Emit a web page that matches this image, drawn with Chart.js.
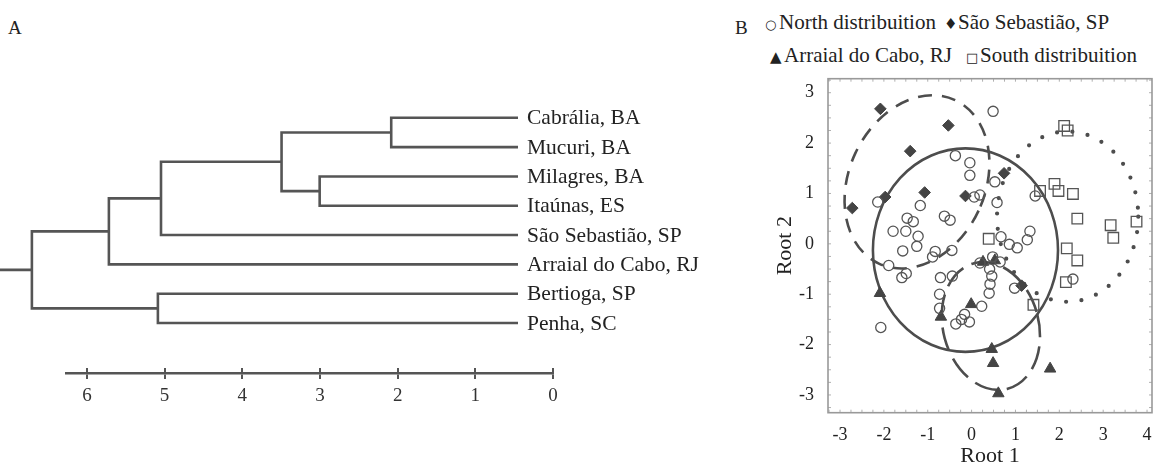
<!DOCTYPE html>
<html>
<head>
<meta charset="utf-8">
<script src="https://cdn.jsdelivr.net/npm/chart.js@4.4.0/dist/chart.umd.min.js"></script>
<style>
  body { margin: 0; background: #fff; width: 1153px; height: 468px; position: relative; overflow: hidden;
         font-family: "Liberation Serif", "Times New Roman", serif; color: #222; }
  canvas { position: absolute; }
  .lbl { position: absolute; font-size: 19px; line-height: 19px; }
  .leg { position: absolute; font-size: 21px; line-height: 20px; white-space: nowrap; }
  .sym { font-family: "DejaVu Sans", sans-serif; font-size: 13px; display: inline-block; width: 14px; }
  .big { font-size: 15px; }
</style>
</head>
<body>
<div class="lbl" style="left:8px; top:18px">A</div>
<div class="lbl" style="left:735px; top:18px">B</div>
<div class="leg" style="left:765px; top:12px"><span class="sym">○</span>North distribuition</div>
<div class="leg" style="left:944px; top:12px"><span class="sym big">♦</span>São Sebastião, SP</div>
<div class="leg" style="left:770px; top:45px"><span class="sym big">▲</span>Arraial do Cabo, RJ</div>
<div class="leg" style="left:966px; top:45px"><span class="sym">□</span>South distribuition</div>

<canvas id="tree" width="720" height="360" style="left:0; top:0"></canvas>
<canvas id="axisA" width="720" height="70" style="left:0; top:350px"></canvas>
<canvas id="scatter" width="423" height="468" style="left:730px; top:0"></canvas>

<script>
Chart.defaults.font.family = '"Liberation Serif", "Times New Roman", serif';
Chart.defaults.color = '#222';

// ---- panel A: dendrogram ----
const leaves = ['Cabrália, BA', 'Mucuri, BA', 'Milagres, BA', 'Itaúnas, ES',
                'São Sebastião, SP', 'Arraial do Cabo, RJ', 'Bertioga, SP', 'Penha, SC'];
const leafEnd = 0.45;      // leaves stop short of 0 in the original
// [child a, child b, linkage distance]; children >= 8 refer to earlier merges
const merges = [[0, 1, 2.08], [2, 3, 3.00], [8, 9, 3.49], [10, 4, 5.04],
                [11, 5, 5.71], [6, 7, 5.08], [12, 13, 6.70]];
const rootStub = 7.11;
const distTicks = [0, 1, 2, 3, 4, 5, 6];

// ---- panel B: discriminant roots ----
const rootTicksX = [-3, -2, -1, 0, 1, 2, 3, 4];
const rootTicksY = [-3, -2, -1, 0, 1, 2, 3];
const northPts = [
  [0.49, 2.63], [-0.37, 1.75], [-0.04, 1.61], [-0.04, 1.36], [0.53, 1.23], [-2.14, 0.83], [-1.17, 0.76],
  [0.06, 0.93], [0.19, 0.97], [0.58, 0.82], [-1.47, 0.51], [-1.33, 0.44], [-0.62, 0.55], [-0.49, 0.47],
  [-1.79, 0.25], [-1.50, 0.25], [-1.22, 0.15], [-1.25, -0.05], [-1.57, -0.14], [-0.83, -0.15], [-0.45, -0.13],
  [1.45, 0.95], [1.33, 0.25], [1.27, 0.08], [0.67, 0.14], [0.86, -0.01], [1.04, -0.08], [0.65, -0.36],
  [0.41, -0.50], [0.46, -0.64], [0.42, -0.80], [0.40, -0.98], [0.48, -0.26], [0.19, -0.38], [-0.89, -0.26],
  [-1.89, -0.43], [-1.49, -0.59], [-1.59, -0.67], [-0.71, -0.67], [-0.44, -0.64], [-0.73, -1.00], [-0.73, -1.28],
  [-0.16, -1.40], [-0.23, -1.50], [-0.05, -1.55], [-0.36, -1.59], [-2.07, -1.66], [0.23, -1.24], [2.31, -0.70],
  [0.98, -0.88]
];
const ssPts = [[-2.08, 2.68], [-0.53, 2.35], [-1.40, 1.84], [-1.97, 0.93], [-1.07, 1.02], [-0.14, 0.95],
               [-2.72, 0.71], [0.74, 1.40], [1.14, -0.83]];
const arraialPts = [[-2.09, -0.98], [-0.70, -1.45], [-0.01, -1.20], [0.46, -2.09], [0.49, -2.37],
                    [1.79, -2.48], [0.61, -2.97], [0.26, -0.36], [0.53, -0.33]];
const southPts = [[2.11, 2.34], [2.19, 2.25], [1.89, 1.19], [1.98, 1.05], [2.31, 0.99], [1.56, 1.05],
                  [2.41, 0.50], [3.17, 0.37], [3.23, 0.12], [3.76, 0.44], [2.17, -0.09], [2.41, -0.33],
                  [2.15, -0.76], [1.41, -1.21], [0.39, 0.10]];
// group ellipses: centre x, centre y, radius x, radius y, tilt (deg)
const northEllipse = [-0.14, -0.125, 2.11, 2.02, 0];
const ssEllipse = [-1.245, 1.23, 1.55, 1.79, 25];
const southEllipse = [2.19, 0.54, 1.61, 1.69, 0];
const arraialEllipse = [0.44, -1.63, 1.09, 1.29, -15];

const ink = '#4d4d4d';

// build dendrogram paths from the merge table
const nodeX = leaves.map(() => leafEnd);
const nodeY = leaves.map((_, i) => i + 1);
const treeSets = [];
merges.forEach(([a, b, h]) => {
  treeSets.push({
    data: [{x: nodeX[a], y: nodeY[a]}, {x: h, y: nodeY[a]}, {x: h, y: nodeY[b]}, {x: nodeX[b], y: nodeY[b]}]
  });
  nodeX.push(h);
  nodeY.push((nodeY[a] + nodeY[b]) / 2);
});
const rootNode = nodeX.length - 1;
treeSets.push({ data: [{x: nodeX[rootNode], y: nodeY[rootNode]}, {x: rootStub, y: nodeY[rootNode]}] });
treeSets.forEach(ds => Object.assign(ds, {
  showLine: true, borderColor: '#555', borderWidth: 2.6, pointRadius: 0, tension: 0
}));

const leafLabels = {
  id: 'leafLabels',
  afterDatasetsDraw(chart) {
    const {ctx, scales: {x, y}} = chart;
    ctx.save();
    ctx.font = '21.5px "Liberation Serif"';
    ctx.fillStyle = '#222';
    ctx.textBaseline = 'middle';
    leaves.forEach((name, i) => {
      ctx.fillText(name, x.getPixelForValue(leafEnd) + 9, y.getPixelForValue(i + 1) + 1);
    });
    ctx.restore();
  }
};

new Chart(document.getElementById('tree'), {
  type: 'scatter',
  data: { datasets: treeSets },
  options: {
    responsive: false, animation: false, events: [],
    layout: { autoPadding: false, padding: { left: 0, right: 167, top: 88.5, bottom: 7.7 } },
    plugins: { legend: { display: false }, tooltip: { enabled: false } },
    scales: {
      x: { type: 'linear', min: 0, max: rootStub, reverse: true, display: false },
      y: { type: 'linear', min: 0, max: 9, reverse: true, display: false }
    }
  },
  plugins: [leafLabels]
});

// distance axis under the tree (its own tiny chart so the line starts at 6.26)
new Chart(document.getElementById('axisA'), {
  type: 'scatter',
  data: { datasets: [] },
  options: {
    responsive: false, animation: false, events: [],
    layout: { autoPadding: false, padding: { left: 66.7, right: 167, top: 18, bottom: 17 } },
    plugins: { legend: { display: false }, tooltip: { enabled: false } },
    scales: {
      x: {
        type: 'linear', min: 0, max: 6.26, reverse: true,
        afterFit: s => { s.height = 30; s.paddingLeft = 0; s.paddingRight = 0; },
        afterBuildTicks: s => { s.ticks = distTicks.map(v => ({ value: v })); },
        ticks: { font: { size: 19 }, color: '#333', padding: 6 },
        grid: { color: '#555', lineWidth: 2, tickLength: 6 },
        border: { color: '#555', width: 2.6 }
      },
      y: { display: false, min: 0, max: 1 }
    }
  }
});

// ---- scatter ----
const ellipseStyles = [
  { e: northEllipse, dash: [], width: 2.6, cap: 'butt' },
  { e: ssEllipse, dash: [14, 10], width: 2.6, cap: 'butt' },
  { e: southEllipse, dash: [0, 15.5], width: 4.2, cap: 'round' },
  { e: arraialEllipse, dash: [24, 9], width: 2.6, cap: 'butt' }
];

const ellipsePlugin = {
  id: 'groupEllipses',
  beforeDatasetsDraw(chart) {
    const {ctx, chartArea: a, scales: {x, y}} = chart;
    const ux = x.getPixelForValue(1) - x.getPixelForValue(0);
    const uy = y.getPixelForValue(0) - y.getPixelForValue(1);
    ctx.save();
    ctx.beginPath();
    ctx.rect(a.left, a.top, a.width, a.height);
    ctx.clip();
    ellipseStyles.forEach(st => {
      const [cx, cy, rx, ry, rot] = st.e;
      ctx.beginPath();
      ctx.setLineDash(st.dash);
      ctx.lineWidth = st.width;
      ctx.lineCap = st.cap;
      ctx.strokeStyle = ink;
      ctx.ellipse(x.getPixelForValue(cx), y.getPixelForValue(cy), rx * ux, ry * uy, rot * Math.PI / 180, 0, 2 * Math.PI);
      ctx.stroke();
    });
    ctx.restore();
  }
};

const framePlugin = {
  id: 'frame',
  afterDraw(chart) {
    const {ctx, chartArea: a, scales: {x, y}} = chart;
    ctx.save();
    ctx.strokeStyle = '#b0b0b0';
    ctx.lineWidth = 1;
    ctx.beginPath();
    for (let v = Math.ceil(x.min * 4) / 4; v <= x.max; v += 0.25) {
      const px = x.getPixelForValue(v);
      ctx.moveTo(px, a.bottom); ctx.lineTo(px, a.bottom - 3);
      ctx.moveTo(px, a.top); ctx.lineTo(px, a.top + 3);
    }
    for (let v = Math.ceil(y.min * 4) / 4; v <= y.max; v += 0.25) {
      const py = y.getPixelForValue(v);
      ctx.moveTo(a.left, py); ctx.lineTo(a.left + 3, py);
      ctx.moveTo(a.right, py); ctx.lineTo(a.right - 3, py);
    }
    ctx.stroke();
    ctx.strokeStyle = '#999';
    ctx.lineWidth = 1.6;
    ctx.strokeRect(a.left, a.top, a.width, a.height);
    ctx.restore();
  }
};

const toXY = pts => pts.map(([x, y]) => ({ x, y }));

new Chart(document.getElementById('scatter'), {
  type: 'scatter',
  data: {
    datasets: [
      { label: 'North distribuition', data: toXY(northPts), pointStyle: 'circle', pointRadius: 5.1,
        borderWidth: 1.3, borderColor: '#555', backgroundColor: 'rgba(255,255,255,0)' },
      { label: 'São Sebastião, SP', data: toXY(ssPts), pointStyle: 'rectRot', pointRadius: 5.8,
        borderWidth: 1, borderColor: '#444', backgroundColor: '#444' },
      { label: 'Arraial do Cabo, RJ', data: toXY(arraialPts), pointStyle: 'triangle', pointRadius: 6.6,
        borderWidth: 1, borderColor: '#444', backgroundColor: '#444' },
      { label: 'South distribuition', data: toXY(southPts), pointStyle: 'rect', pointRadius: 7.5,
        borderWidth: 1.3, borderColor: '#555', backgroundColor: 'rgba(255,255,255,0)' }
    ]
  },
  options: {
    responsive: false, animation: false, events: [],
    layout: { autoPadding: false, padding: { left: 0, right: 1, top: 78.7, bottom: 0 } },
    plugins: { legend: { display: false }, tooltip: { enabled: false } },
    scales: {
      x: {
        type: 'linear', min: -3.274, max: 4.113,
        afterFit: s => { s.height = 55.3; s.paddingLeft = 0; s.paddingRight = 0; },
        afterBuildTicks: s => { s.ticks = rootTicksX.map(v => ({ value: v })); },
        ticks: { font: { size: 18 }, color: '#222', padding: 12 },
        grid: { display: false, drawTicks: false },
        border: { display: false },
        title: { display: true, text: 'Root 1', font: { size: 22, lineHeight: 1 }, color: '#222',
                 padding: { top: 0, bottom: 0.3 } }
      },
      y: {
        type: 'linear', min: -3.352, max: 3.278,
        afterFit: s => { s.width = 98; s.paddingTop = 0; s.paddingBottom = 0; },
        afterBuildTicks: s => { s.ticks = rootTicksY.map(v => ({ value: v })); },
        ticks: { font: { size: 18 }, color: '#222', padding: 14 },
        grid: { display: false, drawTicks: false },
        border: { display: false },
        title: { display: true, text: 'Root 2', font: { size: 22, lineHeight: 1 }, color: '#222',
                 padding: { top: 44, bottom: 0 } }
      }
    }
  },
  plugins: [ellipsePlugin, framePlugin]
});
</script>
</body>
</html>
